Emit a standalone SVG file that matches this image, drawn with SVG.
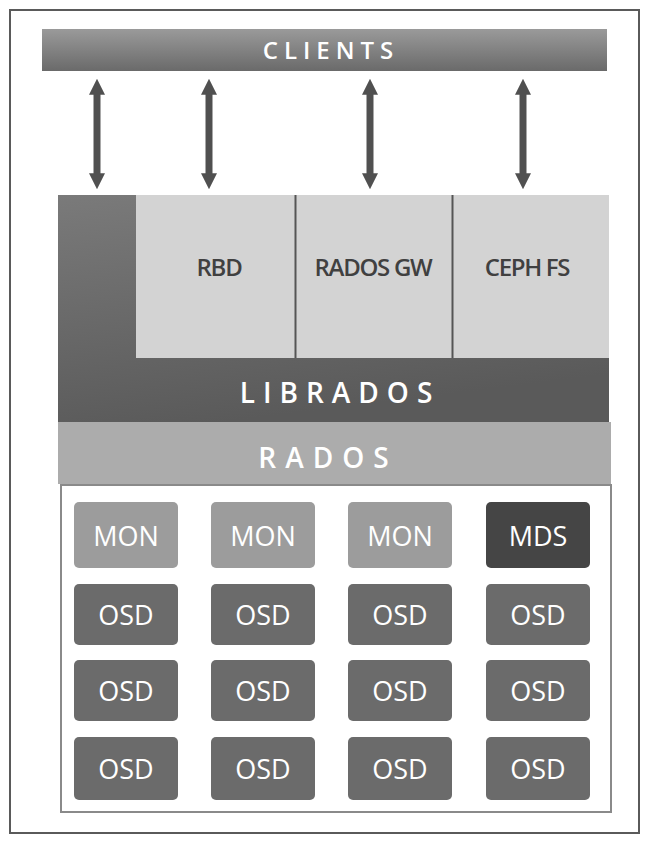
<svg xmlns="http://www.w3.org/2000/svg" width="659" height="843" viewBox="0 0 659 843">
<style>
  .lbl { font-family: "Open Sans", "Liberation Sans", sans-serif; text-anchor: middle; dominant-baseline: central; }
  .band { fill: #ffffff; font-size: 27px; font-weight: 600; }
  .api { fill: #404040; font-size: 24px; font-weight: 600; letter-spacing: -1.3px; }
  .api-box { fill: #d3d3d3; }
  .node-txt { fill: #ffffff; font-size: 27px; font-weight: 400; }
  .mon { fill: #9c9c9c; }
  .osd { fill: #6b6b6b; }
  .mds { fill: #454545; }
  .link { stroke: #8a8a8a; stroke-width: 4; fill: none; }
  .arrow { stroke: #505050; stroke-width: 7; fill: none; marker-start: url(#ah); marker-end: url(#ah); }
</style>
<defs>
  <marker id="ah" viewBox="0 0 10 10" refX="3" refY="5" markerWidth="16" markerHeight="16" markerUnits="userSpaceOnUse" orient="auto-start-reverse">
    <path d="M0,0 L10,5 L0,10 z" fill="#505050"/>
  </marker>
  <linearGradient id="gClients" x1="0" y1="0" x2="0" y2="1">
    <stop offset="0" stop-color="#9a9a9a"/>
    <stop offset="0.5" stop-color="#828282"/>
    <stop offset="1" stop-color="#6a6a6a"/>
  </linearGradient>
  <linearGradient id="gLib" x1="0" y1="0" x2="0.3" y2="1">
    <stop offset="0" stop-color="#7a7a7a"/>
    <stop offset="1" stop-color="#5a5a5a"/>
  </linearGradient>
</defs>
<rect x="0" y="0" width="659" height="843" fill="#ffffff"/>
<rect id="frame" x="10" y="10" width="629" height="823" fill="none" stroke="#5a5a5a" stroke-width="2"/>

<g id="clients">
  <rect x="42" y="29" width="565" height="42" fill="url(#gClients)"/>
  <text class="lbl band" x="331" y="49" style="font-size:24px;letter-spacing:6px">CLIENTS</text>
</g>

<g id="connectors">
  <line class="arrow" x1="97" y1="90" x2="97" y2="178"/>
  <line class="arrow" x1="209" y1="90" x2="209" y2="178"/>
  <line class="arrow" x1="370" y1="90" x2="370" y2="178"/>
  <line class="arrow" x1="523" y1="90" x2="523" y2="178"/>
  <line class="link" x1="178" y1="535" x2="211" y2="535"/>
  <line class="link" x1="315" y1="535" x2="348" y2="535"/>
  <line class="link" x1="452" y1="535" x2="486" y2="535"/>
  <line class="link" x1="178" y1="614" x2="211" y2="614"/>
  <line class="link" x1="315" y1="614" x2="348" y2="614"/>
  <line class="link" x1="452" y1="614" x2="486" y2="614"/>
  <line class="link" x1="178" y1="690" x2="211" y2="690"/>
  <line class="link" x1="315" y1="690" x2="348" y2="690"/>
  <line class="link" x1="452" y1="690" x2="486" y2="690"/>
  <line class="link" x1="178" y1="768" x2="211" y2="768"/>
  <line class="link" x1="315" y1="768" x2="348" y2="768"/>
  <line class="link" x1="452" y1="768" x2="486" y2="768"/>
  <line class="link" x1="124" y1="568" x2="124" y2="584"/>
  <line class="link" x1="124" y1="645" x2="124" y2="660"/>
  <line class="link" x1="124" y1="721" x2="124" y2="737"/>
  <line class="link" x1="263" y1="568" x2="263" y2="584"/>
  <line class="link" x1="263" y1="645" x2="263" y2="660"/>
  <line class="link" x1="263" y1="721" x2="263" y2="737"/>
  <line class="link" x1="400" y1="568" x2="400" y2="584"/>
  <line class="link" x1="400" y1="645" x2="400" y2="660"/>
  <line class="link" x1="400" y1="721" x2="400" y2="737"/>
  <line class="link" x1="538" y1="568" x2="538" y2="584"/>
  <line class="link" x1="538" y1="645" x2="538" y2="660"/>
  <line class="link" x1="538" y1="721" x2="538" y2="737"/>
</g>

<g id="librados">
  <path d="M58,195 H136 V358 H609 V422 H58 Z" fill="url(#gLib)"/>
  <text class="lbl band" x="340" y="392" style="font-size:28px;letter-spacing:8px">LIBRADOS</text>
</g>

<g id="rbd">
  <rect class="api-box" x="136" y="195" width="159" height="163"/>
  <text class="lbl api" x="219" y="266">RBD</text>
</g>
<g id="radosgw">
  <rect class="api-box" x="296" y="195" width="156" height="163"/>
  <text class="lbl api" x="373" y="266">RADOS GW</text>
</g>
<g id="cephfs">
  <rect class="api-box" x="453" y="195" width="156" height="163"/>
  <text class="lbl api" x="527" y="266">CEPH FS</text>
</g>
<g id="dividers">
  <line x1="295.5" y1="195" x2="295.5" y2="358" stroke="#555" stroke-width="2"/>
  <line x1="452.5" y1="195" x2="452.5" y2="358" stroke="#555" stroke-width="2"/>
</g>

<g id="rados">
  <rect x="58" y="422" width="553" height="62" fill="#acacac"/>
  <text class="lbl band" x="328" y="457" style="font-size:28px;letter-spacing:9px">RADOS</text>
</g>

<g id="cluster">
  <rect x="61" y="485" width="550" height="327" fill="#ffffff" stroke="#8a8a8a" stroke-width="2"/>
</g>

<g id="mon1"><rect class="mon" x="74" y="502" width="104" height="66" rx="5"/><text class="lbl node-txt" x="126" y="535">MON</text></g>
<g id="mon2"><rect class="mon" x="211" y="502" width="104" height="66" rx="5"/><text class="lbl node-txt" x="263" y="535">MON</text></g>
<g id="mon3"><rect class="mon" x="348" y="502" width="104" height="66" rx="5"/><text class="lbl node-txt" x="400" y="535">MON</text></g>
<g id="mds"><rect class="mds" x="486" y="502" width="104" height="66" rx="5"/><text class="lbl node-txt" x="538" y="535">MDS</text></g>

<g id="osd11"><rect class="osd" x="74" y="584" width="104" height="61" rx="5"/><text class="lbl node-txt" x="126" y="614">OSD</text></g>
<g id="osd12"><rect class="osd" x="211" y="584" width="104" height="61" rx="5"/><text class="lbl node-txt" x="263" y="614">OSD</text></g>
<g id="osd13"><rect class="osd" x="348" y="584" width="104" height="61" rx="5"/><text class="lbl node-txt" x="400" y="614">OSD</text></g>
<g id="osd14"><rect class="osd" x="486" y="584" width="104" height="61" rx="5"/><text class="lbl node-txt" x="538" y="614">OSD</text></g>

<g id="osd21"><rect class="osd" x="74" y="660" width="104" height="61" rx="5"/><text class="lbl node-txt" x="126" y="690">OSD</text></g>
<g id="osd22"><rect class="osd" x="211" y="660" width="104" height="61" rx="5"/><text class="lbl node-txt" x="263" y="690">OSD</text></g>
<g id="osd23"><rect class="osd" x="348" y="660" width="104" height="61" rx="5"/><text class="lbl node-txt" x="400" y="690">OSD</text></g>
<g id="osd24"><rect class="osd" x="486" y="660" width="104" height="61" rx="5"/><text class="lbl node-txt" x="538" y="690">OSD</text></g>

<g id="osd31"><rect class="osd" x="74" y="737" width="104" height="63" rx="5"/><text class="lbl node-txt" x="126" y="768">OSD</text></g>
<g id="osd32"><rect class="osd" x="211" y="737" width="104" height="63" rx="5"/><text class="lbl node-txt" x="263" y="768">OSD</text></g>
<g id="osd33"><rect class="osd" x="348" y="737" width="104" height="63" rx="5"/><text class="lbl node-txt" x="400" y="768">OSD</text></g>
<g id="osd34"><rect class="osd" x="486" y="737" width="104" height="63" rx="5"/><text class="lbl node-txt" x="538" y="768">OSD</text></g>
</svg>
